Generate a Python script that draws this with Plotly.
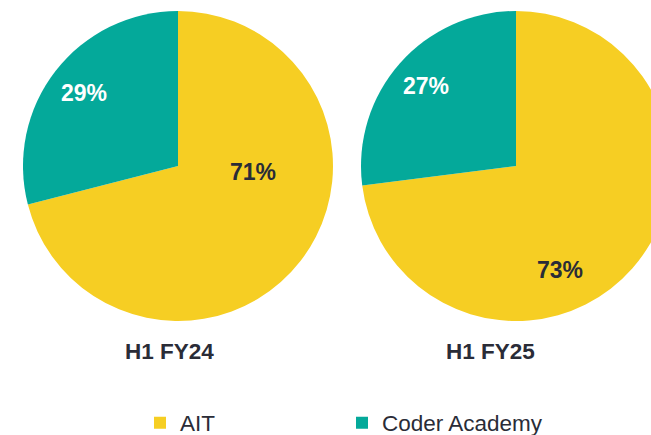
import plotly.graph_objects as go

categories = ["AIT", "Coder Academy"]
periods = ["H1 FY24", "H1 FY25"]
values_fy24 = [71, 29]
values_fy25 = [73, 27]
colors = ["#F6CE23", "#04A99A"]

W, H = 672, 435
FONT = "Arial, Liberation Sans, sans-serif"
DARK = "#2A2C37"

fig = go.Figure()

# pie domains in pixels (left, right, top, bottom)
dom_px = [(23, 333, 11, 321), (361, 671, 11, 321)]
for i, (vals, per) in enumerate(zip([values_fy24, values_fy25], periods)):
    l, r, t, b = dom_px[i]
    fig.add_trace(go.Pie(
        labels=categories, values=vals, sort=False, direction="clockwise",
        rotation=0, marker=dict(colors=colors, line=dict(width=0)),
        textinfo="none", hoverinfo="label+percent",
        domain=dict(x=[l / W, r / W], y=[(H - b) / H, (H - t) / H]),
        showlegend=(i == 0), name=per,
    ))

# label positions in pixels (center of text)
label_pos = [
    [(253, 172), (84, 93)],
    [(560, 270), (426, 86)],
]
label_colors = [DARK, "white"]
for vals, poss in zip([values_fy24, values_fy25], label_pos):
    for v, (px, py), c in zip(vals, poss, label_colors):
        fig.add_annotation(x=px / W, y=(H - py) / H, xref="paper", yref="paper",
                           xanchor="center", yanchor="middle",
                           text=f"<b>{v}%</b>", showarrow=False,
                           font=dict(family=FONT, size=23, color=c))

title_pos = [(169, 351), (490, 351)]
for per, (px, py) in zip(periods, title_pos):
    fig.add_annotation(x=px / W, y=(H - py) / H, xref="paper", yref="paper",
                       xanchor="center", yanchor="middle",
                       text=f"<b>{per}</b>", showarrow=False,
                       font=dict(family=FONT, size=22.5, color=DARK))

fig.update_layout(
    width=W, height=H,
    margin=dict(l=0, r=0, t=0, b=0, autoexpand=False),
    paper_bgcolor="white", plot_bgcolor="white",
    font=dict(family=FONT, color=DARK),
    legend=dict(orientation="h", x=140 / W, y=(H - 423) / H, xanchor="left", yanchor="middle",
                font=dict(family=FONT, size=22.5, color=DARK),
                entrywidth=157, entrywidthmode="pixels", traceorder="normal"),
)

fig.write_html("out.html", config={"displayModeBar": False},
               post_script="document.body.style.margin='0';document.body.style.overflow='hidden';document.documentElement.style.overflow='hidden';")
